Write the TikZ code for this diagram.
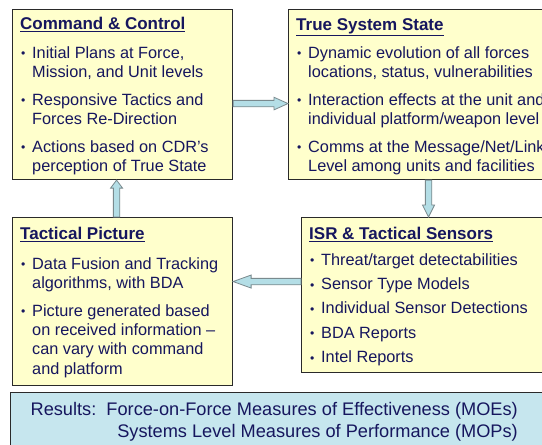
\documentclass[tikz,border=0pt]{standalone}
\usepackage{fontspec}
\setmainfont{Liberation Sans}
\usepackage{xcolor}
\usetikzlibrary{calc,positioning}
\definecolor{Navy}{HTML}{16165E}
\definecolor{Pale}{HTML}{FFFFCC}
\definecolor{Sky}{HTML}{B4DEE6}
\definecolor{Mist}{HTML}{C6E6EE}
\definecolor{Frame}{HTML}{2A2A2A}
\definecolor{Edge}{HTML}{7A8A8E}

\begin{document}
\begin{tikzpicture}[
        %Environment Cfg.
        x=1pt, y=-1pt,
        font=\fontsize{16.3}{19.3}\selectfont,
        %Environment Styles.
        yBox/.style={
            rectangle,
            anchor=north west,
            inner sep=0pt,
            line width=1.1pt,
            draw=Frame,
            fill=Pale
        },
        rBox/.style={
            rectangle,
            anchor=north west,
            inner sep=0pt,
            line width=1.2pt,
            draw=Frame,
            fill=Mist
        },
        tBox/.style={
            anchor=north west,
            inner sep=0pt,
            align=left,
            text=Navy
        },
        aLine/.style={
            draw=Edge,
            fill=Sky,
            line width=0.8pt
        },
    ]
    %Title, bullet and indent of the box texts.
    \def\Ttl#1{{\fontsize{17}{20}\selectfont\bfseries\underline{#1}}}
    \def\Bul{\makebox[12pt][l]{\hspace*{1pt}\raisebox{0.5pt}{\scalebox{0.75}{\textbullet}}}}
    \def\Ind{\hspace*{12pt}}
    %\BlockArrow{start}{target}{head length}{head half width}
    \def\BlockArrow#1#2#3#4{
        \coordinate (ba-s) at (#1);
        \coordinate (ba-t) at (#2);
        \coordinate (ba-b) at ($(ba-t)!#3!(ba-s)$);
        \filldraw[aLine]
            ($(ba-s)!3.2pt!90:(ba-t)$) -- ($(ba-b)!3.2pt!90:(ba-t)$)
            -- ($(ba-b)!#4!90:(ba-t)$) -- (ba-t)
            -- ($(ba-b)!#4!-90:(ba-t)$) -- ($(ba-b)!3.2pt!-90:(ba-t)$)
            -- ($(ba-s)!3.2pt!-90:(ba-t)$) -- cycle;
    }

    \clip (0,0) rectangle (542,445);
    \fill[white] (0,0) rectangle (542,445);

    %The four boxes and the results bar.
    \node[yBox, minimum width=220pt, minimum height=170pt] (CC) at (12,9) {};
    \node[yBox, minimum width=280pt, minimum height=170pt] (TSS) at (288,9) {};
    \node[yBox, minimum width=220pt, minimum height=168pt] (TP) at (12,217) {};
    \node[yBox, minimum width=254pt, minimum height=155pt] (ISR) at (301,217) {};
    \node[rBox, minimum width=560pt, minimum height=70pt] (RES) at (10,392) {};

    %Box texts.
    \node[tBox] (CC-t) at ($(CC.north west)+(8,8)$)
        {\Ttl{Command \& Control}\\[9.5pt]
         \Bul Initial Plans at Force,\\ \Ind Mission, and Unit levels\\[8.4pt]
         \Bul Responsive Tactics and\\ \Ind Forces Re-Direction\\[8.4pt]
         \Bul Actions based on CDR's\\ \Ind perception of True State};
    \node[tBox] (TSS-t) at ($(TSS.north west)+(8,9.4)$)
        {\Ttl{True System State}\\[8.7pt]
         \Bul Dynamic evolution of all forces\\ \Ind locations, status, vulnerabilities\\[8.4pt]
         \Bul Interaction effects at the unit and\\ \Ind individual platform/weapon level\\[8.4pt]
         \Bul Comms at the Message/Net/Link\\ \Ind Level among units and facilities};
    \node[tBox] (TP-t) at ($(TP.north west)+(8,10)$)
        {\Ttl{Tactical Picture}\\[10.5pt]
         \Bul Data Fusion and Tracking\\ \Ind algorithms, with BDA\\[8.4pt]
         \Bul Picture generated based\\ \Ind on received information --\\
         \Ind can vary with command\\ \Ind and platform};
    \node[tBox] (ISR-t) at ($(ISR.north west)+(8,10)$)
        {\Ttl{ISR \& Tactical Sensors}\\[6.5pt]
         \Bul Threat/target detectabilities\\[5pt]
         \Bul Sensor Type Models\\[5pt]
         \Bul Individual Sensor Detections\\[5pt]
         \Bul BDA Reports\\[5pt]
         \Bul Intel Reports};
    \node[tBox, align=right, anchor=north east, font=\fontsize{18.2}{22}\selectfont] (RES-t) at (518,402)
        {Results:\ \ Force-on-Force Measures of Effectiveness (MOEs)\\
         Systems Level Measures of Performance (MOPs)};

    %Block arrows between the boxes.
    \BlockArrow{$(CC.east)+(0,9)$}{$(TSS.west)+(0,9)$}{14pt}{6.3pt}
    \BlockArrow{TSS.south}{ISR.north}{12pt}{6pt}
    \BlockArrow{$(ISR.west)+(0,-13.5)$}{$(TP.east)+(0,-20)$}{18pt}{6.5pt}
    \BlockArrow{$(TP.north)+(-6,0)$}{$(CC.south)+(-6,0)$}{8pt}{6pt}

\end{tikzpicture}
\end{document}
